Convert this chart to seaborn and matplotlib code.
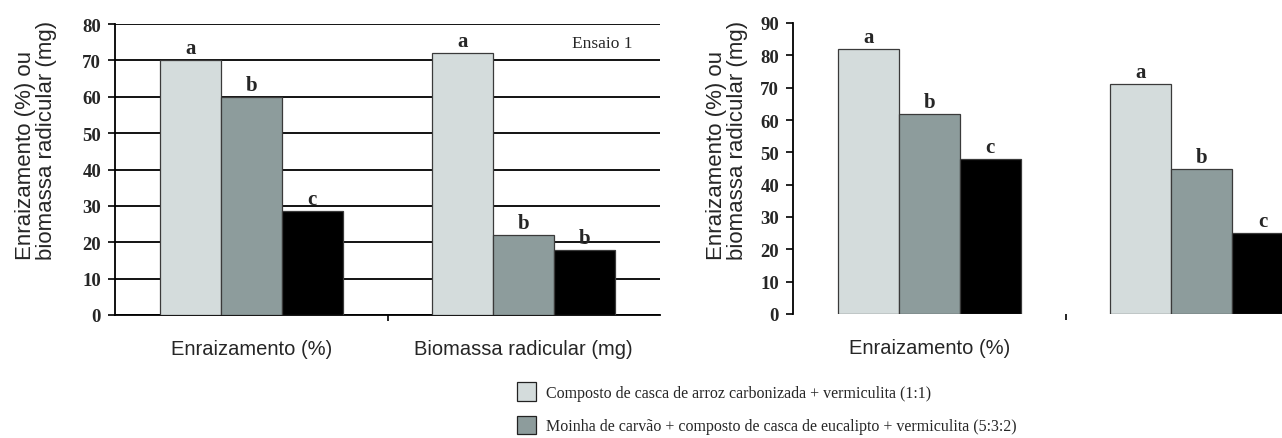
import matplotlib
matplotlib.use("Agg")
import matplotlib.pyplot as plt
import seaborn as sns
import pandas as pd

# ---------------- data ----------------
categories = ["Enraizamento (%)", "Biomassa radicular (mg)"]
treatments = [
    "Composto de casca de arroz carbonizada + vermiculita (1:1)",
    "Moinha de carvão + composto de casca de eucalipto + vermiculita (5:3:2)",
    "Tratamento 3",
]
colors = ["#d3dddd", "#8a9f9f", "#000000"]

# Ensaio 1 (left panel)
ens1_t1 = [70, 72]
ens1_t2 = [60, 22]
ens1_t3 = [28.5, 18]
ens1_letters_t1 = ["a", "a"]
ens1_letters_t2 = ["b", "b"]
ens1_letters_t3 = ["c", "b"]

# Ensaio 2 (right panel, cropped)
ens2_t1 = [82, 71]
ens2_t2 = [62, 45]
ens2_t3 = [48, 25]
ens2_letters_t1 = ["a", "a"]
ens2_letters_t2 = ["b", "b"]
ens2_letters_t3 = ["c", "c"]

left_ticks = [0, 10, 20, 30, 40, 50, 60, 70, 80]
right_ticks = [0, 10, 20, 30, 40, 50, 60, 70, 80, 90]
ylabel_text = "Enraizamento (%) ou\nbiomassa radicular (mg)"


def make_df(t1, t2, t3):
    rows = []
    for tname, vals in zip(treatments, [t1, t2, t3]):
        for c, v in zip(categories, vals):
            rows.append({"cat": c, "trat": tname, "val": v})
    return pd.DataFrame(rows)


df1 = make_df(ens1_t1, ens1_t2, ens1_t3)
df2 = make_df(ens2_t1, ens2_t2, ens2_t3)

sns.set_style("white")
plt.rcParams["font.family"] = ["Liberation Serif", "DejaVu Serif"]

W, H = 1282, 439
fig = plt.figure(figsize=(W / 100, H / 100), dpi=100)

ax1 = fig.add_axes([115 / W, (H - 316) / H, 545 / W, 291 / H])
ax2 = fig.add_axes([793 / W, (H - 315) / H, 545 / W, 291 / H])

serif_bold = dict(family="Liberation Serif", weight="bold", size=13.5)
sans = "Liberation Sans"

for ax, df, ymax, ticks, letters in [
    (ax1, df1, 80, left_ticks, [ens1_letters_t1, ens1_letters_t2, ens1_letters_t3]),
    (ax2, df2, 90, right_ticks, [ens2_letters_t1, ens2_letters_t2, ens2_letters_t3]),
]:
    sns.barplot(
        data=df, x="cat", y="val", hue="trat", order=categories,
        hue_order=treatments, palette=colors, width=0.67, gap=0,
        edgecolor="#3a3a3a", linewidth=0.9, ax=ax, legend=(ax is ax1),
        zorder=3,
    )
    ax.set_xlim(-0.5, 1.5)
    ax.set_ylim(0, ymax)
    ax.set_yticks(ticks)
    ax.set_yticklabels([str(t) for t in ticks], fontdict=serif_bold)
    ax.set_xlabel("")
    ax.set_ylabel("")
    ax.tick_params(axis="y", direction="out", length=5, width=1.2,
                   color="black", pad=5, left=True)
    ax.set_xticks([0, 1])
    ax.set_xticks([0.5], minor=True)
    ax.tick_params(axis="x", which="major", length=0, pad=17)
    ax.tick_params(axis="x", which="minor", direction="out", length=4,
                   width=1.2, color="black", bottom=True)
    ax.set_facecolor("white")
    for s in ["top", "right"]:
        ax.spines[s].set_visible(False)
    ax.spines["left"].set_color("black")
    ax.spines["left"].set_linewidth(1.3)

    # significance letters above bars
    for cont, labs in zip(ax.containers, letters):
        for bar, lab in zip(cont, labs):
            ax.annotate(lab, (bar.get_x() + bar.get_width() / 2, bar.get_height()),
                        xytext=(0, 5), textcoords="offset points",
                        ha="center", va="baseline", zorder=5,
                        family="Liberation Serif", weight="bold", size=15)

# left panel: horizontal black grid, bottom axis
ax1.set_xticklabels(categories, family=sans, size=14.5)
ax1.yaxis.grid(True, color="black", linewidth=1.3, zorder=0)
ax1.set_axisbelow(True)
ax1.spines["bottom"].set_color("black")
ax1.spines["bottom"].set_linewidth(1.3)
ax1.text(1.177, 73.6, "Ensaio 1", family="Liberation Serif", size=12.5,
         ha="left", va="baseline")

# right panel: no grid, no bottom axis line
ax2.set_xticklabels([categories[0], ""], family=sans, size=14.5)
ax2.spines["bottom"].set_visible(False)

# rotated y labels
for xc in [36 / W, 727 / W]:
    fig.text(xc, (H - 260) / H, ylabel_text, rotation=90, ha="center",
             va="bottom", multialignment="left", family=sans, size=16,
             linespacing=0.95)

# legend below
handles, labels = ax1.get_legend_handles_labels()
ax1.get_legend().remove()
for h in handles:
    h.set_edgecolor("#222222")
    h.set_linewidth(0.9)
fig.legend(handles[:2], labels[:2], loc="upper left",
           bbox_to_anchor=(517 / W, (H - 383) / H), bbox_transform=fig.transFigure,
           frameon=False, borderpad=0, borderaxespad=0,
           handlelength=1.18, handleheight=1.44, handletextpad=0.65,
           labelspacing=0.92, prop=dict(family="Liberation Serif", size=11.5))

fig.savefig("out.png", dpi=100)
